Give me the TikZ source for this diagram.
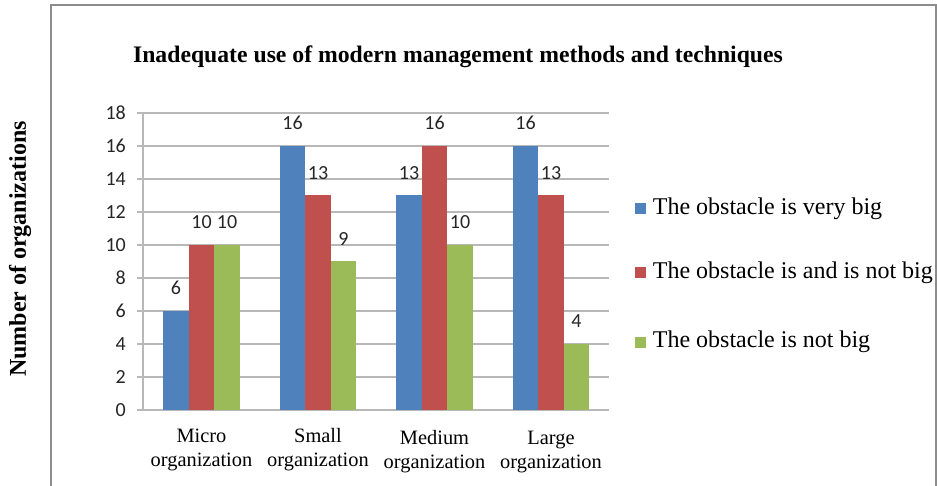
\documentclass[tikz,border=0pt]{standalone}
\usepackage{fontspec}
\setmainfont{Liberation Serif}
\newfontfamily\numfont{Carlito}
\usepackage{tikz}
\usetikzlibrary{positioning}

\definecolor{barblue}{HTML}{4F81BD}
\definecolor{barred}{HTML}{C0504D}
\definecolor{bargreen}{HTML}{9BBB59}

\begin{document}
\begin{tikzpicture}[x=1pt,y=-1pt]
    \tikzstyle{grid-line}=[draw=black!28,line width=1.3pt]
    \tikzstyle{tick-label}=[anchor=east,inner sep=0pt,font=\numfont\fontsize{20}{20}\selectfont,text=black!85]
    \tikzstyle{value-label}=[anchor=south,inner sep=0pt,font=\numfont\fontsize{20}{20}\selectfont,text=black!85]
    \tikzstyle{cat-label}=[align=center,inner sep=0pt,font=\fontsize{20.4}{24}\selectfont]
    \tikzstyle{legend-box}=[rectangle,minimum size=11pt,inner sep=0pt]
    \tikzstyle{legend-text}=[anchor=west,inner sep=0pt,font=\fontsize{24}{24}\selectfont]

    \useasboundingbox (0,0) rectangle (937,486);
    \fill[white] (0,0) rectangle (937,486);
    % frame of the chart
    \draw[black!45,line width=1.3pt] (51,486) -- (51,5) -- (936,5) -- (936,486);

    \node [font=\bfseries\fontsize{23.7}{24}\selectfont] (title) at (458,57) {Inadequate use of modern management methods and techniques};
    \node [rotate=90,font=\bfseries\fontsize{24}{24}\selectfont] (ylabel) at (20,249) {Number of organizations};

    \begin{scope}[shift={(0,410)},y=16.5pt]
        % grid and ticks
        \foreach \v in {0,2,...,18} {
            \draw[grid-line] (137,\v) -- (609,\v);
            \node [tick-label] (tick\v) at (126,\v) {\v};
        }
        \draw[grid-line] (143,0) -- (143,18);

        % bars: group centre / blue / red / green
        \foreach \c/\a/\b/\g [count=\i] in {201.5/6/10/10, 318/16/13/9, 434.5/13/16/10, 551/16/13/4} {
            \fill[barblue]  (\c-38.25,0) rectangle (\c-12.75,\a);
            \fill[barred]   (\c-12.75,0) rectangle (\c+12.75,\b);
            \fill[bargreen] (\c+12.75,0) rectangle (\c+38.25,\g);
            \node [value-label] (va\i) at (\c-25.5,\a) [yshift=16pt] {\a};
            \node [value-label] (vb\i) at (\c,\b) [yshift=16pt] {\b};
            \node [value-label] (vg\i) at (\c+25.5,\g) [yshift=16pt] {\g};
        }
    \end{scope}

    \node [cat-label] (micro)  at (201.5,450) {Micro\\organization};
    \node [cat-label] (small)  at (318,450)   {Small\\organization};
    \node [cat-label] (medium) at (434.5,452) {Medium\\organization};
    \node [cat-label] (large)  at (551,452)   {Large\\organization};

    \node [legend-box,fill=barblue]  (keyvery) at (640,209) {};
    \node [legend-box,fill=barred]   (keyand)  at (640,273) {};
    \node [legend-box,fill=bargreen] (keynot)  at (640,342) {};
    \node [legend-text] (txtvery) [right=7pt of keyvery] {The obstacle is very big};
    \node [legend-text] (txtand)  [right=7pt of keyand]  {The obstacle is and is not big};
    \node [legend-text] (txtnot)  [right=7pt of keynot]  {The obstacle is not big};

\end{tikzpicture}
\end{document}
